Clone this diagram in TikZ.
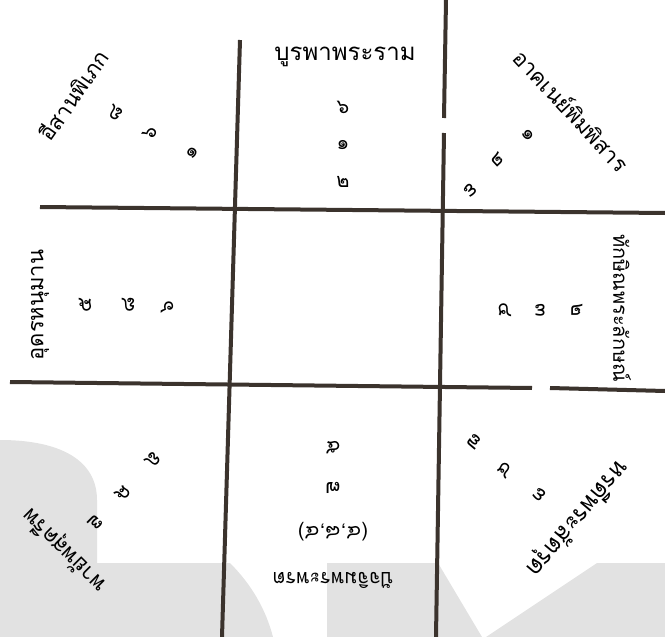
\documentclass[tikz,border=0pt]{standalone}
\usepackage{fontspec}
\newfontfamily\thaifont[Script=Thai]{Loma}
\definecolor{ink}{HTML}{3B332D}
\definecolor{wmark}{HTML}{E2E2E2}
\tikzset{
  gridline/.style={line width=4pt, ink},
  dirlabel/.style={font=\thaifont\fontsize{22}{24}\selectfont, inner sep=0pt},
  numlabel/.style={font=\thaifont\fontsize{20}{22}\selectfont, inner sep=0pt},
}
\begin{document}
\begin{tikzpicture}[x=1pt, y=-1pt]
\useasboundingbox (0,0) rectangle (665,637);
% grey marks at the bottom
\fill[wmark] (0,440) .. controls (60,440) and (97,460) .. (97,500) -- (97,563) -- (230,563) .. controls (252,585) and (266,610) .. (273,637) -- (0,637) -- cycle;
\fill[wmark] (327,563) -- (438,563) -- (482,637) -- (327,637) -- cycle;
\fill[wmark] (597,563) -- (665,563) -- (665,637) -- (486,637) -- cycle;
% the grid
\draw[gridline] (240,40) -- (222,637);
\draw[gridline] (446,0) -- (444,118);
\draw[gridline] (444,133) -- (436,637);
\draw[gridline] (40,207) -- (665,213);
\draw[gridline] (10,382) -- (532,388);
\draw[gridline] (550,388) -- (665,391);
% east
\node[dirlabel, font=\thaifont\fontsize{24}{26}\selectfont] (east) at (345,57) {บูรพาพระราม};
\node[numlabel] (e1) at (343,107) {๖};
\node[numlabel] (e2) at (343,145) {๑};
\node[numlabel] (e3) at (343,182) {๒};
% north-east
\node[dirlabel, rotate=55] (neast) at (73,95) {อีสานพิเภก};
\node[numlabel, rotate=55] (ne1) at (115,113) {๘};
\node[numlabel, rotate=55] (ne2) at (150,133) {๖};
\node[numlabel, rotate=55] (ne3) at (192,153) {๑};
% south-east
\node[dirlabel, rotate=-47] (seast) at (572,110) {อาคเนย์พิมพิสาร};
\node[numlabel, rotate=-47] (se1) at (528,135) {๑};
\node[numlabel, rotate=-47] (se2) at (498,160) {๒};
\node[numlabel, rotate=-47] (se3) at (470,190) {๓};
% north
\node[dirlabel, rotate=90] (north) at (40,305) {อุดรหนุมาน};
\node[numlabel, rotate=90] (n1) at (85,305) {๕};
\node[numlabel, rotate=90] (n2) at (128,305) {๘};
\node[numlabel, rotate=90] (n3) at (167,307) {๖};
% south
\node[dirlabel, rotate=-90, font=\thaifont\fontsize{20}{22}\selectfont] (south) at (622,308) {ทักษิณพระลักษณ์};
\node[numlabel, rotate=-90] (s1) at (577,310) {๒};
\node[numlabel, rotate=-90] (s2) at (540,310) {๓};
\node[numlabel, rotate=-90] (s3) at (505,310) {๔};
% south-west
\node[dirlabel, rotate=230, font=\thaifont\fontsize{24}{26}\selectfont] (swest) at (577,518) {หรดีพระสัตรุด};
\node[numlabel, rotate=230] (sw1) at (540,495) {๓};
\node[numlabel, rotate=230] (sw2) at (505,470) {๔};
\node[numlabel, rotate=230] (sw3) at (475,442) {๗};
% west
\node[dirlabel, rotate=180, font=\thaifont\fontsize{20}{22}\selectfont] (west) at (333,580) {ปัจจิมพระพรต};
\node[numlabel, rotate=180] (w1) at (333,532) {(๔,๘,๔)};
\node[numlabel, rotate=180] (w2) at (333,488) {๗};
\node[numlabel, rotate=180] (w3) at (333,448) {๕};
% north-west
\node[dirlabel, rotate=135] (nwest) at (65,550) {พายัพสุครีพ};
\node[numlabel, rotate=135] (nw1) at (95,523) {๗};
\node[numlabel, rotate=135] (nw2) at (123,493) {๕};
\node[numlabel, rotate=135] (nw3) at (153,460) {๘};
\end{tikzpicture}
\end{document}
